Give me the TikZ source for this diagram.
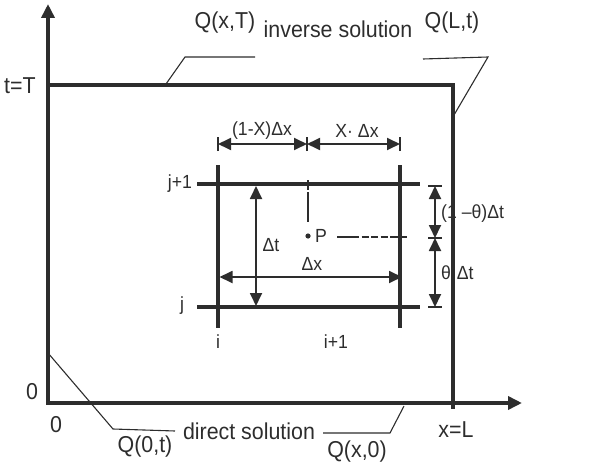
\documentclass[tikz,border=0pt]{standalone}
\usepackage{fontspec}
\setmainfont{Liberation Sans}
\newfontfamily\narrowsans{Liberation Sans}[FakeStretch=0.93]
\usetikzlibrary{arrows.meta}
\definecolor{ink}{RGB}{45,45,45}
\begin{document}
\begin{tikzpicture}[x=1pt,y=-1pt,
  every node/.style={text=ink, inner sep=0pt},
  frame/.style={draw=ink, line width=3.6pt},
  gridline/.style={draw=ink, line width=3.4pt},
  tickline/.style={draw=ink, line width=1.4pt},
  dimline/.style={draw=ink, line width=1.8pt, {Triangle[length=13pt,width=12pt]}-{Triangle[length=13pt,width=12pt]}},
  leader/.style={draw=ink, line width=1.1pt},
  big/.style={font=\narrowsans\fontsize{23}{25}\selectfont},
  small/.style={font=\narrowsans\fontsize{19}{21}\selectfont}]
\useasboundingbox (0,0) rectangle (607,468);

% axes
\coordinate (O) at (48,403);
\coordinate (Ox) at (46.2,403);
\coordinate (ytip) at (48,4);
\coordinate (xtip) at (522,403);
\draw[frame, -{Triangle[length=14pt,width=13pt]}] (O) -- (ytip);
\draw[frame, -{Triangle[length=14pt,width=13pt]}] (Ox) -- (xtip);

% boundary t=T and x=L
\coordinate (TL) at (48,85);
\coordinate (TR) at (453,85);
\coordinate (BR) at (453,409);
\draw[frame, line join=miter] (TL) -- (TR) -- (BR);

% grid
\coordinate (i1) at (218,165);  \coordinate (i2) at (218,328);
\coordinate (k1) at (400,165);  \coordinate (k2) at (400,328);
\coordinate (ja1) at (197,184); \coordinate (ja2) at (420,184);
\coordinate (jb1) at (197,307); \coordinate (jb2) at (420,307);
\draw[gridline] (i1) -- (i2);
\draw[gridline] (k1) -- (k2);
\draw[gridline] (ja1) -- (ja2);
\draw[gridline] (jb1) -- (jb2);

% top dimension
\coordinate (d1) at (218,144); \coordinate (d2) at (307,144); \coordinate (d3) at (400,144);
\foreach \c in {d1,d2,d3} \draw[tickline] ([yshift=-7pt]\c) -- ([yshift=7pt]\c);
\draw[dimline] (d1) -- (d2);
\draw[dimline] (d2) -- (d3);
\node[small] (lx1) at (262,131) {(1-X)Δx};
\node[small] (lx2) at (357,131) {X· Δx};

% right dimension
\coordinate (e1) at (435,186); \coordinate (e2) at (435,238); \coordinate (e3) at (435,307);
\foreach \c in {e1,e2,e3} \draw[tickline] ([xshift=-7pt]\c) -- ([xshift=7pt]\c);
\draw[dimline] (e1) -- (e2);
\draw[dimline] (e2) -- (e3);
\node[small, anchor=west] (lt1) at (441,214) {(1 –θ)Δt};
\node[small, anchor=west] (lt2) at (441,273) {θ·Δt};

% inner arrows
\coordinate (a1) at (256,186); \coordinate (a2) at (256,306);
\draw[dimline] (a1) -- (a2);
\node[small] (ldt) at (271,245) {Δt};
\coordinate (b1) at (219.5,277); \coordinate (b2) at (402,277);
\draw[dimline] (b1) -- (b2);
\node[small] (ldx) at (312,264) {Δx};

% point P
\coordinate (P) at (308,236);
\fill[ink] (P) circle (2.6pt);
\node[small, anchor=west] (lP) at (315,236) {P};
\coordinate (pv1) at (308,180); \coordinate (pv2) at (308,222);
\draw[draw=ink, line width=1.6pt, dash pattern=on 10pt off 2pt on 30pt] (pv1) -- (pv2);
\coordinate (ph1) at (337,237); \coordinate (ph2) at (407,237);
\draw[draw=ink, line width=1.6pt, dash pattern=on 22pt off 2.5pt on 7pt off 2.5pt on 7pt off 2.5pt on 7pt off 2.5pt on 20pt] (ph1) -- (ph2);

% grid labels
\node[small] (lj1) at (180,184) {j+1};
\node[small] (lj) at (182,306) {j};
\node[small] (li) at (218,342) {i};
\node[small] (li1) at (336,342) {i+1};

% axis labels
\node[big] (ltT) at (20,86) {t=T};
\node[big] (l0y) at (32,392) {0};
\node[big] (l0x) at (56,425) {0};
\node[big] (lxL) at (456,430) {x=L};

% top labels with leaders
\node[big] (qxT) at (225,23) {Q(x,T)};
\node[big] (inv) at (338,29) {inverse solution};
\node[big] (qLt) at (452,23) {Q(L,t)};
\coordinate (q1a) at (255,57); \coordinate (q1b) at (185,57); \coordinate (q1c) at (166,84);
\draw[leader] (q1a) -- (q1b) -- (q1c);
\coordinate (q2a) at (423,59); \coordinate (q2b) at (488,57); \coordinate (q2c) at (454,115);
\draw[leader] (q2a) -- (q2b) -- (q2c);

% bottom labels with leaders
\node[big] (q0t) at (145,447) {Q(0,t)};
\node[big] (dir) at (249,431) {direct solution};
\node[big] (qx0) at (357,452) {Q(x,0)};
\coordinate (q3a) at (48,353); \coordinate (q3b) at (113,429); \coordinate (q3c) at (175,431);
\draw[leader] (q3a) -- (q3b) -- (q3c);
\coordinate (q4a) at (323,433); \coordinate (q4b) at (390,433); \coordinate (q4c) at (404,406);
\draw[leader] (q4a) -- (q4b) -- (q4c);
\end{tikzpicture}
\end{document}
